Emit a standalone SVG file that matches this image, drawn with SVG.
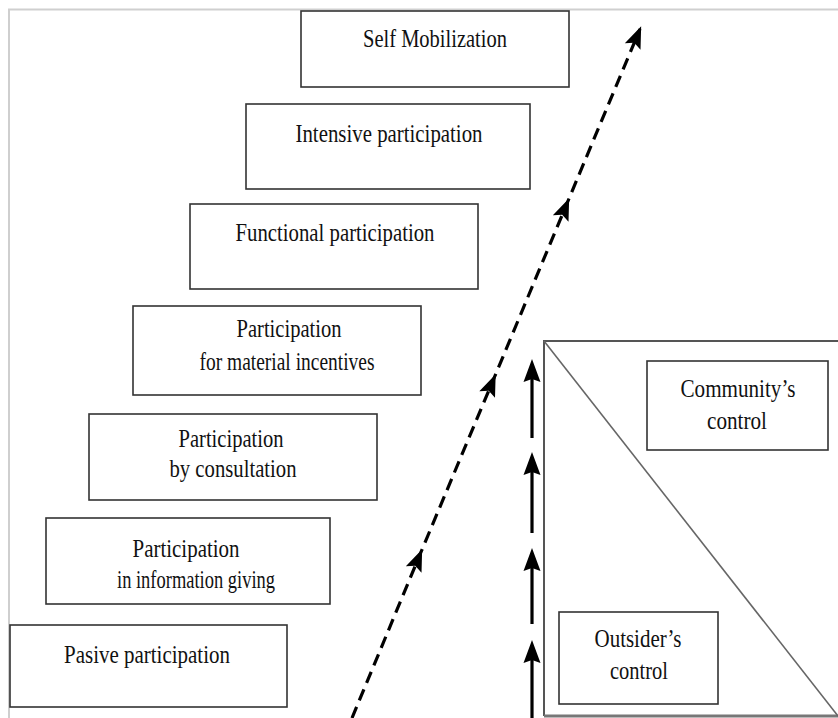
<svg xmlns="http://www.w3.org/2000/svg" width="838" height="718" viewBox="0 0 838 718">
<defs>
<style>
.box{fill:#fff;stroke:#333;stroke-width:1.6}
.t{font-family:"Liberation Serif","Times New Roman",serif;font-size:26px;fill:#111;text-anchor:middle}
.frame{fill:none;stroke:#cfcfcf;stroke-width:2}
.solid{fill:none;stroke:#000;stroke-width:3.2}
.dash{fill:none;stroke:#000;stroke-width:3.2;stroke-dasharray:12 7}
</style>
<marker id="ah" markerUnits="userSpaceOnUse" orient="auto" markerWidth="60" markerHeight="60" refX="0" refY="0" overflow="visible">
<path d="M8,0 L-15,-8.5 L-12,0 L-15,8.5 Z" fill="#000"/>
</marker>
<marker id="dh" markerUnits="userSpaceOnUse" orient="auto" markerWidth="60" markerHeight="60" refX="0" refY="0" overflow="visible">
<path d="M3,0 L-19,-8.5 L-15,0 L-19,8.5 Z" fill="#000"/>
</marker>
</defs>
<rect width="838" height="718" fill="#fff"/>
<path class="frame" d="M9,718 V9.5 H838"/>

<g id="ctrl-area">
<path d="M544,716 V341 H840" fill="none" stroke="#555" stroke-width="2"/>
<path d="M544,716 H840" fill="none" stroke="#777" stroke-width="3"/>
<line x1="544" y1="341" x2="838" y2="716" stroke="#666" stroke-width="1.6"/>
</g>

<g id="n-self">
<rect class="box" x="301" y="11" width="268" height="76"/>
<text class="t" x="435" y="47" textLength="144" lengthAdjust="spacingAndGlyphs">Self Mobilization</text>
</g>
<g id="n-intensive">
<rect class="box" x="246" y="104" width="284" height="85"/>
<text class="t" x="389" y="142" textLength="187" lengthAdjust="spacingAndGlyphs">Intensive participation</text>
</g>
<g id="n-functional">
<rect class="box" x="190" y="204" width="288" height="85"/>
<text class="t" x="335" y="241" textLength="199" lengthAdjust="spacingAndGlyphs">Functional participation</text>
</g>
<g id="n-material">
<rect class="box" x="133" y="306" width="288" height="89"/>
<text class="t" x="289" y="337" textLength="105" lengthAdjust="spacingAndGlyphs">Participation</text>
<text class="t" x="287" y="370" textLength="175" lengthAdjust="spacingAndGlyphs">for material incentives</text>
</g>
<g id="n-consultation">
<rect class="box" x="89" y="414" width="288" height="86"/>
<text class="t" x="231" y="447" textLength="105" lengthAdjust="spacingAndGlyphs">Participation</text>
<text class="t" x="233" y="477" textLength="127" lengthAdjust="spacingAndGlyphs">by consultation</text>
</g>
<g id="n-information">
<rect class="box" x="46" y="518" width="284" height="86"/>
<text class="t" x="186" y="557" textLength="107" lengthAdjust="spacingAndGlyphs">Participation</text>
<text class="t" x="196" y="588" textLength="158" lengthAdjust="spacingAndGlyphs">in information giving</text>
</g>
<g id="n-pasive">
<rect class="box" x="10" y="625" width="277" height="82"/>
<text class="t" x="147" y="663" textLength="166" lengthAdjust="spacingAndGlyphs">Pasive participation</text>
</g>
<g id="n-community">
<rect class="box" x="647" y="361" width="181" height="89"/>
<text class="t" x="738" y="397" textLength="115" lengthAdjust="spacingAndGlyphs">Community’s</text>
<text class="t" x="737" y="429" textLength="60" lengthAdjust="spacingAndGlyphs">control</text>
</g>
<g id="n-outsider">
<rect class="box" x="559" y="612" width="159" height="92"/>
<text class="t" x="638" y="647" textLength="87" lengthAdjust="spacingAndGlyphs">Outsider’s</text>
<text class="t" x="639" y="679" textLength="58" lengthAdjust="spacingAndGlyphs">control</text>
</g>

<g id="connectors">
<polyline class="dash" points="352,718 421,552 494.5,377 568,201 640,29" marker-mid="url(#dh)" marker-end="url(#dh)"/>
<line class="solid" x1="532" y1="438" x2="532" y2="367" marker-end="url(#ah)"/>
<line class="solid" x1="532" y1="533" x2="532" y2="460" marker-end="url(#ah)"/>
<line class="solid" x1="532" y1="624" x2="532" y2="556" marker-end="url(#ah)"/>
<line class="solid" x1="532" y1="718" x2="532" y2="648" marker-end="url(#ah)"/>
</g>
</svg>
